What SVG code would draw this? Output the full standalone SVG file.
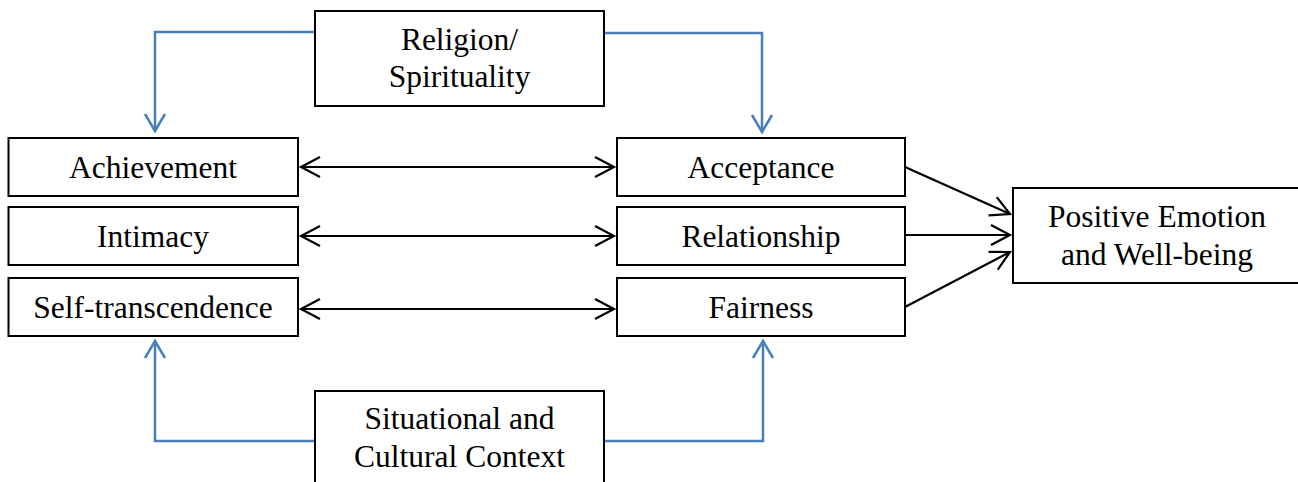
<svg xmlns="http://www.w3.org/2000/svg" width="1298" height="482" viewBox="0 0 1298 482">
<style>
.box{fill:#fff;stroke:#000;stroke-width:2}
.t{font-family:"Liberation Serif","Times New Roman",serif;font-size:31.5px;fill:#000;text-anchor:middle}
.bk{fill:none;stroke:#000;stroke-width:2.2}
.bl{fill:none;stroke:#4a7ebb;stroke-width:2.5}
</style>
<defs>
<marker id="ak" markerUnits="userSpaceOnUse" markerWidth="30" markerHeight="30" viewBox="-25 -15 30 30" refX="0" refY="0" orient="auto-start-reverse">
<path d="M-19,-10 L0,0 L-19,10" fill="none" stroke="#000" stroke-width="2.2"/>
</marker>
<marker id="ab" markerUnits="userSpaceOnUse" markerWidth="30" markerHeight="30" viewBox="-25 -15 30 30" refX="0" refY="0" orient="auto">
<path d="M-17,-10 L0,0 L-17,10" fill="none" stroke="#4a7ebb" stroke-width="2.5"/>
</marker>
</defs>
<g id="connectors">
<path class="bl" d="M315,32 H155 V131" marker-end="url(#ab)"/>
<path class="bl" d="M604,33 H762 V132" marker-end="url(#ab)"/>
<path class="bl" d="M315,441 H155 V341" marker-end="url(#ab)"/>
<path class="bl" d="M604,441 H763 V341" marker-end="url(#ab)"/>
<line class="bk" x1="301" y1="167" x2="614" y2="167" marker-start="url(#ak)" marker-end="url(#ak)"/>
<line class="bk" x1="301" y1="236" x2="614" y2="236" marker-start="url(#ak)" marker-end="url(#ak)"/>
<line class="bk" x1="301" y1="309" x2="614" y2="309" marker-start="url(#ak)" marker-end="url(#ak)"/>
<line class="bk" x1="905" y1="167" x2="1010" y2="214" marker-end="url(#ak)"/>
<line class="bk" x1="905" y1="235" x2="1010" y2="235" marker-end="url(#ak)"/>
<line class="bk" x1="905" y1="307" x2="1010" y2="252" marker-end="url(#ak)"/>
</g>
<g id="religion"><rect class="box" x="315" y="11" width="289" height="95"/><text class="t" x="459.5" y="50">Religion/</text><text class="t" x="459.5" y="87">Spirituality</text></g>
<g id="achievement"><rect class="box" x="8.5" y="138" width="289.5" height="58"/><text class="t" x="153" y="178">Achievement</text></g>
<g id="intimacy"><rect class="box" x="8.5" y="207" width="289.5" height="58"/><text class="t" x="153" y="247">Intimacy</text></g>
<g id="self-transcendence"><rect class="box" x="8.5" y="278" width="289.5" height="58"/><text class="t" x="153" y="318">Self-transcendence</text></g>
<g id="acceptance"><rect class="box" x="617" y="138" width="288" height="58"/><text class="t" x="761" y="178">Acceptance</text></g>
<g id="relationship"><rect class="box" x="617" y="207" width="288" height="58"/><text class="t" x="761" y="247">Relationship</text></g>
<g id="fairness"><rect class="box" x="617" y="278" width="288" height="58"/><text class="t" x="761" y="318">Fairness</text></g>
<g id="positive"><rect class="box" x="1013" y="188" width="290" height="95"/><text class="t" x="1157" y="227">Positive Emotion</text><text class="t" x="1157" y="265">and Well-being</text></g>
<g id="situational"><rect class="box" x="315" y="391" width="289" height="100"/><text class="t" x="459.5" y="429">Situational and</text><text class="t" x="459.5" y="467">Cultural Context</text></g>
</svg>
